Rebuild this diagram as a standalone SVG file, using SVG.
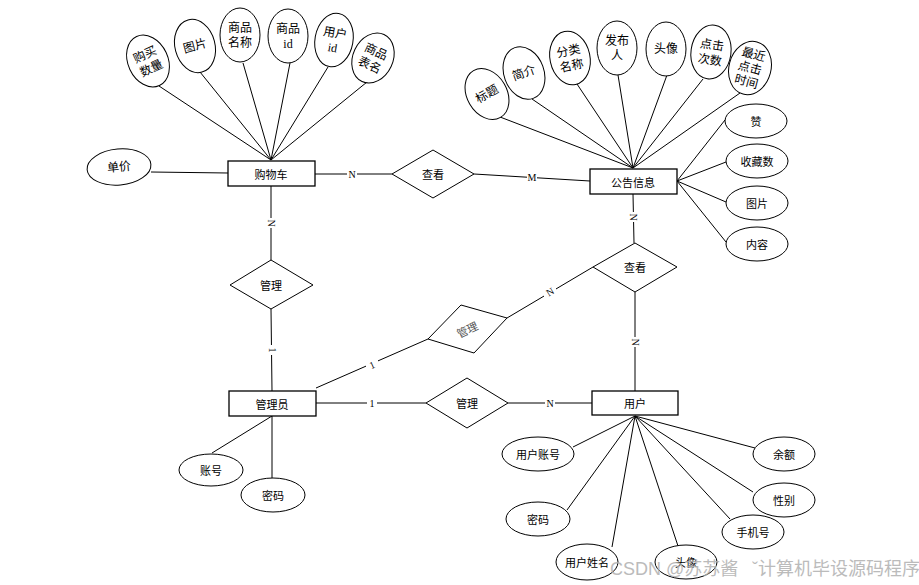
<svg xmlns="http://www.w3.org/2000/svg" width="919" height="585" viewBox="0 0 919 585">
<style>
.bg{fill:#fff}
.ent{fill:#fff;stroke:#000;stroke-width:1.3}
.rel{fill:#fff;stroke:#000;stroke-width:1}
.att{fill:#fff;stroke:#000;stroke-width:1}
.ln{stroke:#000;stroke-width:1;fill:none}
text{font-family:"Liberation Serif","Noto Sans CJK SC",serif;fill:#000;text-anchor:middle;dominant-baseline:central}
.t{font-size:11px;font-family:"Noto Sans CJK SC",sans-serif}
.a{font-size:12px}
.s{font-size:11px;font-family:"Noto Sans CJK SC",sans-serif}
.lab{font-size:10px}
.wm{font-size:18px;fill:#b0b0b0;font-family:"Liberation Sans","Noto Sans CJK SC",sans-serif;text-anchor:start;opacity:0.85}
</style>
<rect class="bg" width="919" height="585"/>
<g id="connectors">
<!-- cart attributes -->
<line class="ln" x1="159" y1="86" x2="271" y2="160"/>
<line class="ln" x1="200" y1="72" x2="271" y2="160"/>
<line class="ln" x1="243" y1="63" x2="271" y2="160"/>
<line class="ln" x1="290" y1="63" x2="271" y2="160"/>
<line class="ln" x1="328" y1="67" x2="271" y2="160"/>
<line class="ln" x1="367" y1="82" x2="271" y2="160"/>
<line class="ln" x1="151" y1="172" x2="228" y2="173"/>
<!-- notice attributes -->
<line class="ln" x1="500" y1="117" x2="633" y2="168"/>
<line class="ln" x1="532" y1="99" x2="633" y2="168"/>
<line class="ln" x1="577" y1="84" x2="633" y2="168"/>
<line class="ln" x1="618" y1="75" x2="633" y2="168"/>
<line class="ln" x1="667" y1="75" x2="633" y2="168"/>
<line class="ln" x1="703" y1="79" x2="633" y2="168"/>
<line class="ln" x1="740" y1="93" x2="633" y2="168"/>
<line class="ln" x1="725" y1="120" x2="677" y2="181"/>
<line class="ln" x1="726" y1="162" x2="677" y2="181"/>
<line class="ln" x1="726" y1="202" x2="677" y2="181"/>
<line class="ln" x1="726" y1="242" x2="677" y2="181"/>
<!-- relationships -->
<line class="ln" x1="315" y1="174" x2="392" y2="174"/>
<line class="ln" x1="474" y1="174" x2="590" y2="181"/>
<line class="ln" x1="633" y1="194" x2="634" y2="243"/>
<line class="ln" x1="635" y1="292" x2="635" y2="391"/>
<line class="ln" x1="593" y1="267" x2="507" y2="318"/>
<line class="ln" x1="428" y1="339" x2="316" y2="388"/>
<line class="ln" x1="271" y1="186" x2="271" y2="260"/>
<line class="ln" x1="271" y1="309" x2="272" y2="391"/>
<line class="ln" x1="316" y1="403" x2="426" y2="403"/>
<line class="ln" x1="508" y1="403" x2="592" y2="403"/>
<!-- admin attributes -->
<line class="ln" x1="272" y1="416" x2="212" y2="453"/>
<line class="ln" x1="272" y1="416" x2="272" y2="478"/>
<!-- user attributes -->
<line class="ln" x1="635" y1="416" x2="573" y2="447"/>
<line class="ln" x1="635" y1="416" x2="567" y2="510"/>
<line class="ln" x1="635" y1="416" x2="612" y2="547"/>
<line class="ln" x1="635" y1="416" x2="678" y2="546"/>
<line class="ln" x1="635" y1="416" x2="730" y2="519"/>
<line class="ln" x1="635" y1="416" x2="753" y2="492"/>
<line class="ln" x1="635" y1="416" x2="755" y2="448"/>
<!-- cardinality labels -->
<g class="lab">
<rect x="347" y="168" width="10" height="12" fill="#fff"/><text x="352" y="174">N</text>
<rect x="527" y="172" width="10" height="12" fill="#fff"/><text x="532" y="177.5">M</text>
<rect x="627" y="212" width="12" height="10" fill="#fff"/><text x="633" y="217" transform="rotate(90 633 217)">N</text>
<rect x="629" y="337" width="12" height="10" fill="#fff"/><text x="635" y="342" transform="rotate(90 635 342)">N</text>
<rect x="544" y="287" width="12" height="10" fill="#fff"/><text x="550" y="292" transform="rotate(-31 550 292)">N</text>
<rect x="366" y="360" width="12" height="10" fill="#fff"/><text x="372" y="365" transform="rotate(-24 372 365)">1</text>
<rect x="265" y="218" width="12" height="10" fill="#fff"/><text x="271" y="223" transform="rotate(90 271 223)">N</text>
<rect x="266" y="345" width="12" height="10" fill="#fff"/><text x="272" y="350" transform="rotate(90 272 350)">1</text>
<rect x="367" y="397" width="10" height="12" fill="#fff"/><text x="372" y="403">1</text>
<rect x="545" y="397" width="10" height="12" fill="#fff"/><text x="550" y="403">N</text>
</g>
</g>
<g id="cart"><rect class="ent" x="228" y="161" width="87" height="25"/><text class="t" x="271" y="174">购物车</text></g>
<g id="notice"><rect class="ent" x="590" y="169" width="87" height="25"/><text class="t" x="633" y="181.5">公告信息</text></g>
<g id="admin"><rect class="ent" x="229" y="391" width="87" height="25"/><text class="t" x="272" y="403.5">管理员</text></g>
<g id="user"><rect class="ent" x="592" y="391" width="86" height="24"/><text class="t" x="635" y="403">用户</text></g>
<g id="rel-view1"><polygon class="rel" points="433,150 474,174 433,198 392,174"/><text class="t" x="433" y="174">查看</text></g>
<g id="rel-view2"><polygon class="rel" points="635,243 677,267 635,292 593,267"/><text class="t" x="635" y="267">查看</text></g>
<g id="rel-manage1"><polygon class="rel" points="271,260 313,285 271,309 230,285"/><text class="t" x="271" y="285">管理</text></g>
<g id="rel-manage2"><polygon class="rel" points="461,305 507,318 474,353 428,339"/><text class="t" x="467" y="329" fill="#555" style="fill:#555" transform="rotate(-25 467 329)">管理</text></g>
<g id="rel-manage3"><polygon class="rel" points="467,378 508,403 467,428 426,403"/><text class="t" x="467" y="403">管理</text></g>
<!-- cart attributes -->
<g id="att-qty" transform="rotate(-25 148 61)"><ellipse class="att" cx="148" cy="61" rx="20" ry="27"/><text class="a" x="148" y="54">购买</text><text class="a" x="148" y="69">数量</text></g>
<g id="att-img1" transform="rotate(-15 195 46)"><ellipse class="att" cx="195" cy="46" rx="20" ry="27"/><text class="a" x="195" y="46">图片</text></g>
<g id="att-gname"><ellipse class="att" cx="240" cy="35" rx="20" ry="27"/><text class="a" x="240" y="28">商品</text><text class="a" x="240" y="43">名称</text></g>
<g id="att-gid"><ellipse class="att" cx="288" cy="36" rx="20" ry="27"/><text class="a" x="288" y="29">商品</text><text class="a" x="288" y="44">id</text></g>
<g id="att-uid" transform="rotate(10 334 40)"><ellipse class="att" cx="334" cy="40" rx="19" ry="27"/><text class="a" x="334" y="33">用户</text><text class="a" x="334" y="48">id</text></g>
<g id="att-gtable" transform="rotate(25 373 58)"><ellipse class="att" cx="373" cy="58" rx="20" ry="26"/><text class="a" x="373" y="51">商品</text><text class="a" x="373" y="66">表名</text></g>
<g id="att-price" transform="rotate(-5 119 167)"><ellipse class="att" cx="119" cy="167" rx="32" ry="18"/><text class="a" x="119" y="167">单价</text></g>
<!-- notice attributes -->
<g id="att-title" transform="rotate(-30 487 94)"><ellipse class="att" cx="487" cy="94" rx="20" ry="27"/><text class="a" x="487" y="94">标题</text></g>
<g id="att-intro" transform="rotate(-20 524 73)"><ellipse class="att" cx="524" cy="73" rx="20" ry="27"/><text class="a" x="524" y="73">简介</text></g>
<g id="att-cat" transform="rotate(-12 570 58)"><ellipse class="att" cx="570" cy="58" rx="20" ry="27"/><text class="a" x="570" y="51">分类</text><text class="a" x="570" y="66">名称</text></g>
<g id="att-pub"><ellipse class="att" cx="617" cy="48" rx="20" ry="27"/><text class="a" x="617" y="41">发布</text><text class="a" x="617" y="56">人</text></g>
<g id="att-avatar1"><ellipse class="att" cx="666" cy="49" rx="20" ry="27"/><text class="a" x="666" y="49">头像</text></g>
<g id="att-clicks" transform="rotate(8 711 52)"><ellipse class="att" cx="711" cy="52" rx="20" ry="27"/><text class="a" x="711" y="45">点击</text><text class="a" x="711" y="60">次数</text></g>
<g id="att-lasttime" transform="rotate(15 750 68)"><ellipse class="att" cx="750" cy="68" rx="21" ry="27"/><text class="a" x="750" y="54">最近</text><text class="a" x="750" y="68">点击</text><text class="a" x="750" y="82">时间</text></g>
<g id="att-like"><ellipse class="att" cx="756" cy="121" rx="31" ry="17"/><text class="s" x="756" y="121">赞</text></g>
<g id="att-fav"><ellipse class="att" cx="757" cy="161" rx="31" ry="17"/><text class="s" x="757" y="161">收藏数</text></g>
<g id="att-img2"><ellipse class="att" cx="757" cy="203" rx="31" ry="17"/><text class="s" x="757" y="203">图片</text></g>
<g id="att-content"><ellipse class="att" cx="757" cy="244" rx="31" ry="17"/><text class="s" x="757" y="244">内容</text></g>
<!-- admin attributes -->
<g id="att-acc"><ellipse class="att" cx="211" cy="470" rx="32" ry="16"/><text class="s" x="211" y="470">账号</text></g>
<g id="att-pwd1"><ellipse class="att" cx="273" cy="495" rx="32" ry="17"/><text class="s" x="273" y="495">密码</text></g>
<!-- user attributes -->
<g id="att-uacc"><ellipse class="att" cx="538" cy="454" rx="36" ry="17"/><text class="s" x="538" y="454">用户账号</text></g>
<g id="att-pwd2"><ellipse class="att" cx="538" cy="519" rx="32" ry="17"/><text class="s" x="538" y="519">密码</text></g>
<g id="att-uname"><ellipse class="att" cx="587" cy="562" rx="31" ry="18"/><text class="s" x="587" y="562">用户姓名</text></g>
<g id="att-avatar2"><ellipse class="att" cx="686" cy="562" rx="31" ry="17"/><text class="s" x="686" y="562">头像</text></g>
<g id="att-phone"><ellipse class="att" cx="753" cy="532" rx="31" ry="17"/><text class="s" x="753" y="532">手机号</text></g>
<g id="att-gender"><ellipse class="att" cx="784" cy="500" rx="31" ry="17"/><text class="s" x="784" y="500">性别</text></g>
<g id="att-balance"><ellipse class="att" cx="784" cy="454" rx="31" ry="17"/><text class="s" x="784" y="454">余额</text></g>
<text class="wm" x="610" y="569">CSDN @苏苏酱</text>
<text class="wm" x="752" y="569">ˇ计算机毕设源码程序</text>
</svg>
